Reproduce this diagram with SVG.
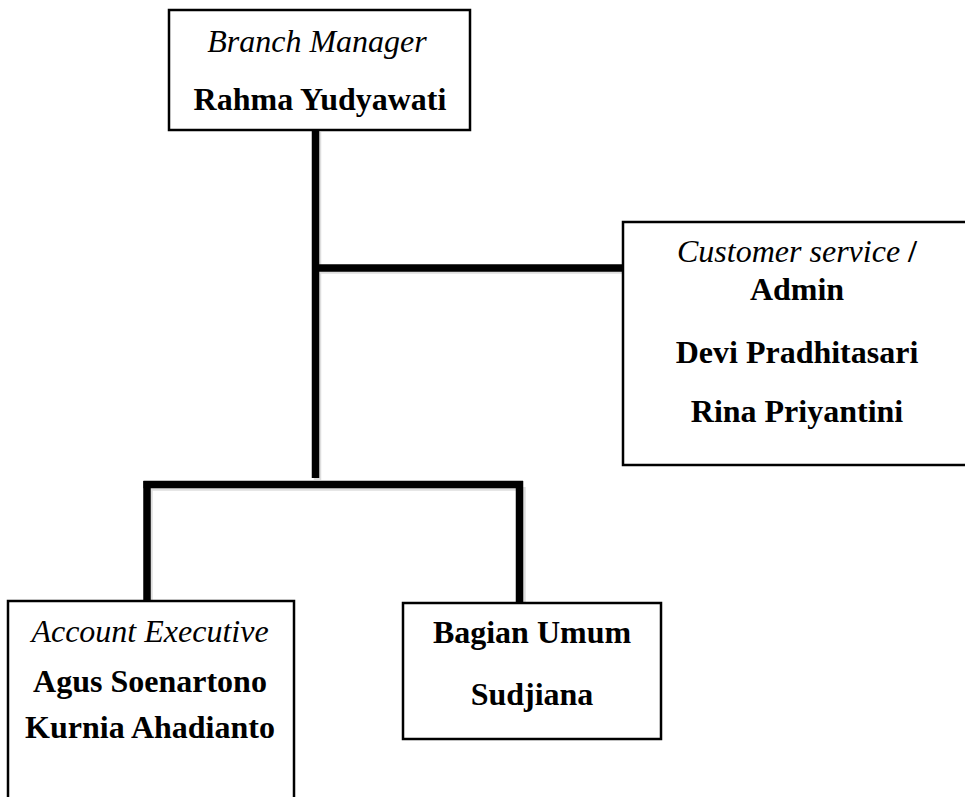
<svg xmlns="http://www.w3.org/2000/svg" width="965" height="797" viewBox="0 0 965 797">
<defs>
<style>
.box{fill:#fff;stroke:#000;stroke-width:2.5}
.ln{stroke:#000;stroke-width:7.5;fill:none;stroke-linecap:butt}
.sh{stroke:#c8c8c8;stroke-width:7.5;fill:none;opacity:0.6}
text{font-family:"Liberation Serif","Times New Roman",serif;font-size:32px;fill:#000;text-anchor:middle}
.i{font-style:italic}
.b{font-weight:bold}
</style>
</defs>
<rect width="965" height="797" fill="#fff"/>
<g id="connectors">
<path class="sh" d="M317.5 132V480 M319 270H622 M149 487H522 M149 487V600 M522 487V603"/>
<path class="ln" d="M315.5 130V478"/>
<path class="ln" d="M319 268H623"/>
<path class="ln" d="M143.5 484.5H523"/>
<path class="ln" d="M147 481V600"/>
<path class="ln" d="M519.5 481V603"/>
</g>
<g id="branch-manager">
<rect class="box" x="169" y="10" width="301" height="120"/>
<text class="i" x="317" y="52">Branch Manager</text>
<text class="b" x="320" y="110">Rahma Yudyawati</text>
</g>
<g id="customer-service">
<rect class="box" x="623" y="222" width="345" height="243"/>
<text x="797" y="262"><tspan class="i">Customer service </tspan><tspan class="b">/</tspan></text>
<text class="b" x="797" y="300">Admin</text>
<text class="b" x="797" y="363">Devi Pradhitasari</text>
<text class="b" x="797" y="422">Rina Priyantini</text>
</g>
<g id="account-executive">
<rect class="box" x="8" y="601" width="286" height="210"/>
<text class="i" x="150" y="642">Account Executive</text>
<text class="b" x="150" y="692">Agus Soenartono</text>
<text class="b" x="150" y="738">Kurnia Ahadianto</text>
</g>
<g id="bagian-umum">
<rect class="box" x="403" y="603" width="258" height="136"/>
<text class="b" x="532" y="643">Bagian Umum</text>
<text class="b" x="532" y="705">Sudjiana</text>
</g>
</svg>
